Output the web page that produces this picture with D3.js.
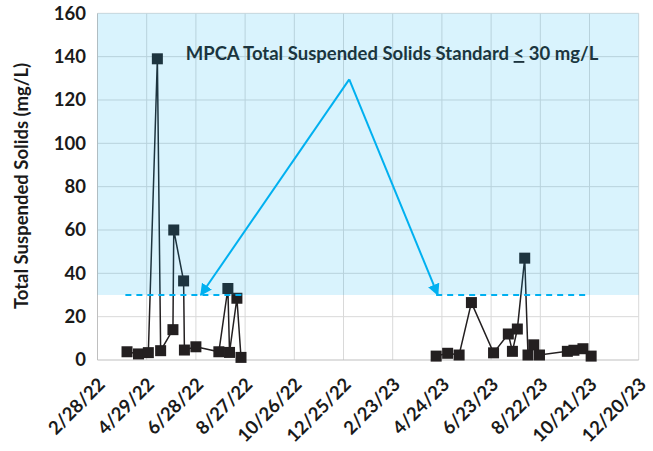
<!DOCTYPE html>
<html>
<head>
<meta charset="utf-8">
<script src="https://cdn.jsdelivr.net/npm/d3@7"></script>
<style>
  body { margin: 0; background: #fff; }
  text { font-family: Lato, "Open Sans", sans-serif; }
</style>
</head>
<body>
<script>
var parse = d3.timeParse("%Y-%m-%d");

// 2022 sampling season
var dates2022 = ["2022-04-05","2022-04-19","2022-05-01","2022-05-12","2022-05-16","2022-05-31","2022-06-01",
                 "2022-06-13","2022-06-14","2022-06-28","2022-07-26","2022-08-06","2022-08-08","2022-08-17","2022-08-22"];
var tss2022 = [3.8, 2.8, 3.4, 139, 4.3, 14, 60, 36.5, 4.6, 6.1, 3.8, 33, 3.5, 28.5, 1.2];

// 2023 sampling season
var dates2023 = ["2023-04-17","2023-05-01","2023-05-15","2023-05-30","2023-06-26","2023-07-14","2023-07-19","2023-07-25",
                 "2023-08-03","2023-08-07","2023-08-14","2023-08-21","2023-09-24","2023-10-02","2023-10-13","2023-10-23"];
var tss2023 = [1.8, 3.1, 2.3, 26.5, 3.3, 12, 4, 14.3, 47, 2.3, 7, 2.3, 4, 4.5, 5.2, 1.8];

// standard line segments (30 mg/L)
var standardValue = 30;
var standardSpans = [["2022-04-03","2022-08-23"], ["2023-04-17","2023-10-18"]];

// annotation arrows: apex and tips
var arrowApex = {date: "2023-01-01", value: 129.5};
var arrowTips = [{date: "2022-07-04", value: 30}, {date: "2023-04-19", value: 30}];

var xStart = "2022-02-28", xEnd = "2023-12-20", tickStepDays = 60;
var yMax = 160, yStep = 20;

var width = 653, height = 451;
var margin = {left: 97.5, right: 14.3, top: 13.3, bottom: 91};
var fontSize = 18.5;

var svg = d3.select("body").append("svg")
            .attr("width", width)
            .attr("height", height);

var x = d3.scaleTime()
          .domain([parse(xStart), parse(xEnd)])
          .range([margin.left, width - margin.right]);

var y = d3.scaleLinear()
          .domain([0, yMax])
          .range([height - margin.bottom, margin.top]);

var xTicks = d3.timeDay.every(1).range(parse(xStart), d3.timeDay.offset(parse(xEnd), 1))
               .filter(function(d, i){ return i % tickStepDays === 0; });
var yTicks = d3.range(0, yMax + 1, yStep);
var fmt = d3.timeFormat("%-m/%-d/%y");

// gridlines
svg.append("g").selectAll("line").data(yTicks.slice(1)).enter().append("line")
   .attr("x1", margin.left).attr("x2", width - margin.right)
   .attr("y1", function(d){ return y(d); }).attr("y2", function(d){ return y(d); })
   .attr("stroke", "#d9d9d9").attr("stroke-width", 1);
svg.append("g").selectAll("line").data(xTicks.slice(1)).enter().append("line")
   .attr("x1", function(d){ return x(d); }).attr("x2", function(d){ return x(d); })
   .attr("y1", y(0)).attr("y2", y(yMax))
   .attr("stroke", "#d9d9d9").attr("stroke-width", 1);

// axis frame
svg.append("line").attr("x1", margin.left).attr("x2", margin.left)
   .attr("y1", y(0)).attr("y2", y(yMax)).attr("stroke", "#bfbfbf");
svg.append("line").attr("x1", margin.left).attr("x2", width - margin.right)
   .attr("y1", y(0)).attr("y2", y(0)).attr("stroke", "#bfbfbf");

// y tick labels
svg.append("g").selectAll("text").data(yTicks).enter().append("text")
   .attr("x", 86).attr("y", function(d){ return y(d); })
   .attr("dy", "0.35em")
   .attr("text-anchor", "end")
   .attr("font-size", fontSize).attr("font-weight", "bold").attr("fill", "#1a1a1a")
   .text(function(d){ return d; });

// x tick labels, rotated
svg.append("g").selectAll("text").data(xTicks).enter().append("text")
   .attr("transform", function(d){ return "translate(" + (x(d) + 4) + "," + (y(0) + 21) + ") rotate(-45)"; })
   .attr("text-anchor", "end")
   .attr("dy", "0.35em")
   .attr("font-size", fontSize).attr("font-weight", "bold").attr("fill", "#1a1a1a")
   .text(function(d){ return fmt(d); });

// y axis title
svg.append("text")
   .attr("transform", "translate(28,186) rotate(-90)")
   .attr("text-anchor", "middle")
   .attr("font-size", fontSize).attr("font-weight", "bold").attr("fill", "#1a1a1a")
   .text("Total Suspended Solids (mg/L)");

// series
var line = d3.line()
             .x(function(d){ return x(d.date); })
             .y(function(d){ return y(d.value); });

[[dates2022, tss2022], [dates2023, tss2023]].forEach(function(s){
  var pts = s[0].map(function(d, i){ return {date: parse(d), value: s[1][i]}; });
  svg.append("path").datum(pts)
     .attr("d", line)
     .attr("fill", "none")
     .attr("stroke", "#231f20")
     .attr("stroke-width", 1.5);
  svg.append("g").selectAll("rect").data(pts).enter().append("rect")
     .attr("x", function(d){ return x(d.date) - 5.5; })
     .attr("y", function(d){ return y(d.value) - 5.5; })
     .attr("width", 11).attr("height", 11)
     .attr("fill", "#231f20");
});

// annotation text
var note = svg.append("text")
   .attr("x", 392).attr("y", 60)
   .attr("text-anchor", "middle")
   .attr("font-size", fontSize).attr("font-weight", "bold").attr("fill", "#231f20");
note.append("tspan").text("MPCA Total Suspended Solids Standard ");
note.append("tspan").attr("text-decoration", "underline").text("<");
note.append("tspan").text(" 30 mg/L");

// shaded exceedance zone (translucent overlay)
svg.append("rect")
   .attr("x", margin.left).attr("y", y(yMax))
   .attr("width", width - margin.right - margin.left)
   .attr("height", y(standardValue) - y(yMax))
   .attr("fill", "#00b0f0").attr("fill-opacity", 0.15);

// standard dashed line
svg.append("g").selectAll("line").data(standardSpans).enter().append("line")
   .attr("x1", function(d){ return x(parse(d[0])); })
   .attr("x2", function(d){ return x(parse(d[1])); })
   .attr("y1", y(standardValue)).attr("y2", y(standardValue))
   .attr("stroke", "#00b0f0").attr("stroke-width", 2)
   .attr("stroke-dasharray", "6,5");

// arrows
svg.append("defs").append("marker")
   .attr("id", "head")
   .attr("markerUnits", "userSpaceOnUse")
   .attr("viewBox", "0 -5 10 10")
   .attr("refX", 9).attr("refY", 0)
   .attr("markerWidth", 12).attr("markerHeight", 12)
   .attr("orient", "auto")
   .append("path").attr("d", "M0,-5L10,0L0,5Z").attr("fill", "#00b0f0");

arrowTips.forEach(function(t){
  svg.append("line")
     .attr("x1", x(parse(arrowApex.date))).attr("y1", y(arrowApex.value))
     .attr("x2", x(parse(t.date))).attr("y2", y(t.value))
     .attr("stroke", "#00b0f0").attr("stroke-width", 2)
     .attr("marker-end", "url(#head)");
});
</script>
</body>
</html>
